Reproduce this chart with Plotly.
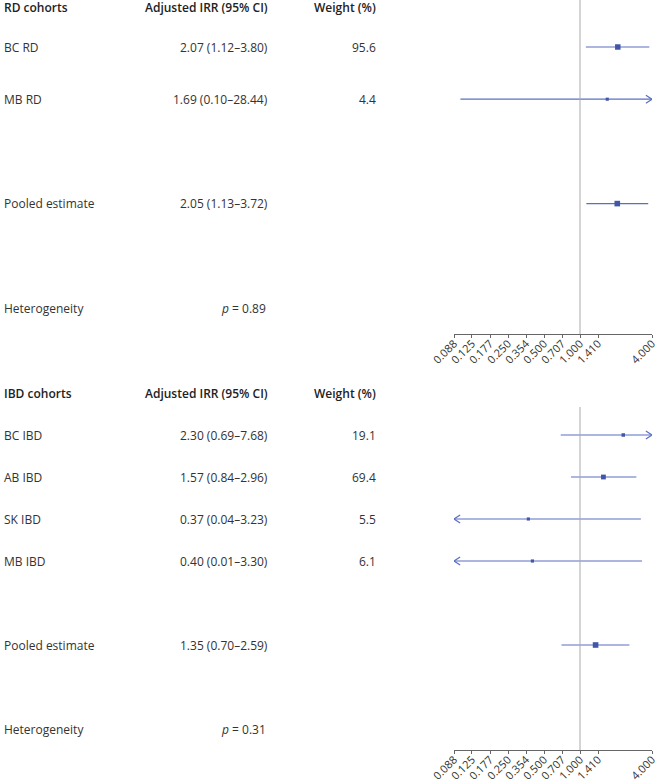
import math
import plotly.graph_objects as go

# ---------------- data ----------------
rd_labels = ["BC RD", "MB RD", "Pooled estimate"]
rd_est = [2.07, 1.69, 2.05]
rd_lo = [1.12, 0.10, 1.13]
rd_hi = [3.80, 28.44, 3.72]
rd_weight = [95.6, 4.4, None]
rd_het_p = "0.89"

ibd_labels = ["BC IBD", "AB IBD", "SK IBD", "MB IBD", "Pooled estimate"]
ibd_est = [2.30, 1.57, 0.37, 0.40, 1.35]
ibd_lo = [0.69, 0.84, 0.04, 0.01, 0.70]
ibd_hi = [7.68, 2.96, 3.23, 3.30, 2.59]
ibd_weight = [19.1, 69.4, 5.5, 6.1, None]
ibd_het_p = "0.31"

tick_vals = [0.0884, 0.125, 0.1768, 0.25, 0.3536, 0.5, 0.7071, 1.0, 1.4142, 4.0]
tick_text = ["0.088", "0.125", "0.177", "0.250", "0.354", "0.500", "0.707", "1.000", "1.410", "4.000"]
x_min, x_max = tick_vals[0], tick_vals[-1]

# ---------------- layout helpers ----------------
W, H = 660, 783
FONT = "Open Sans"
TXT = "#333333"
LINE_C = "#5b6fc2"
MARK_C = "#4256a8"

def py(p):  # pixel y -> paper y
    return 1 - p / H

def px(p):
    return p / W

panels = [
    dict(name="RD cohorts", labels=rd_labels, est=rd_est, lo=rd_lo, hi=rd_hi, w=rd_weight,
         het=rd_het_p, rows=[1, 2, 4], het_row=6, p0=-5.2, unit=52.2, top=0, bottom=334,
         header_pix=7),
    dict(name="IBD cohorts", labels=ibd_labels, est=ibd_est, lo=ibd_lo, hi=ibd_hi, w=ibd_weight,
         het=ibd_het_p, rows=[1, 2, 3, 4, 6], het_row=8, p0=393, unit=42, top=407, bottom=750,
         header_pix=394),
]

fig = go.Figure()
annotations = []
shapes = []

for i, P in enumerate(panels):
    sfx = "" if i == 0 else "2"
    row_of = lambda pix, P=P: (pix - P["p0"]) / P["unit"]
    y_rng = [row_of(P["bottom"]), row_of(P["top"])]
    dom = [py(P["bottom"]), py(P["top"])]
    fig.update_layout(**{
        "xaxis" + sfx: dict(type="log", domain=[px(454), px(652)],
                            range=[math.log10(x_min), math.log10(x_max)],
                            tickvals=tick_vals, ticktext=tick_text, tickangle=-45,
                            showline=True, linecolor="#666666", linewidth=1,
                            ticks="outside", ticklen=3, tickcolor="#666666",
                            ticklabelstandoff=-5,
                            showgrid=False, zeroline=False, anchor="y" + sfx,
                            automargin=False,
                            tickfont=dict(family=FONT, size=11, color="#333333")),
        "yaxis" + sfx: dict(domain=dom, range=y_rng, visible=False, showgrid=False,
                            zeroline=False, anchor="x" + sfx, automargin=False),
    })
    # reference line at IRR = 1
    shapes.append(dict(type="line", xref="x" + sfx, yref="y" + sfx + " domain",
                       x0=1, x1=1, y0=0, y1=1, line=dict(color="#aaaaaa", width=1)))

    ch_dx = 0.17 * math.log10(2)          # chevron depth (log10 units)
    ch_dy = 4.0 / P["unit"]               # chevron half-height (rows)
    for lab, e, lo, hi, w, r in zip(P["labels"], P["est"], P["lo"], P["hi"], P["w"], P["rows"]):
        a, b = max(lo, x_min), min(hi, x_max)
        fig.add_trace(go.Scatter(x=[a, b], y=[r, r], mode="lines", xaxis="x" + sfx, yaxis="y" + sfx,
                                 line=dict(color=LINE_C, width=1.2), hoverinfo="skip", showlegend=False))
        size = 3 + 2.6 * (w if w is not None else 100) / 100
        fig.add_trace(go.Scatter(x=[e], y=[r], mode="markers", xaxis="x" + sfx, yaxis="y" + sfx,
                                 marker=dict(symbol="square", size=size, color=MARK_C),
                                 showlegend=False))
        if hi > x_max:
            tip = math.log10(x_max)
            xs = [10 ** (tip - ch_dx), x_max, 10 ** (tip - ch_dx)]
            fig.add_trace(go.Scatter(x=xs, y=[r - ch_dy, r, r + ch_dy], mode="lines",
                                     xaxis="x" + sfx, yaxis="y" + sfx, cliponaxis=False,
                                     line=dict(color=LINE_C, width=1.2), showlegend=False))
        if lo < x_min:
            tip = math.log10(x_min)
            xs = [10 ** (tip + ch_dx), x_min, 10 ** (tip + ch_dx)]
            fig.add_trace(go.Scatter(x=xs, y=[r - ch_dy, r, r + ch_dy], mode="lines",
                                     xaxis="x" + sfx, yaxis="y" + sfx, cliponaxis=False,
                                     line=dict(color=LINE_C, width=1.2), showlegend=False))
        annotations.append(dict(text=lab, xref="paper", yref="y" + sfx, x=px(2), y=r,
                                xanchor="left", yanchor="middle", showarrow=False,
                                font=dict(family=FONT, size=12, color=TXT)))
        annotations.append(dict(text=f"{e:.2f} ({lo:.2f}\u2013{hi:.2f})", xref="paper", yref="y" + sfx,
                                x=px(270), y=r, xanchor="right", yanchor="middle", showarrow=False,
                                font=dict(family=FONT, size=12, color=TXT)))
        if w is not None:
            annotations.append(dict(text=f"{w:.1f}", xref="paper", yref="y" + sfx,
                                    x=px(378), y=r, xanchor="right", yanchor="middle", showarrow=False,
                                    font=dict(family=FONT, size=12, color=TXT)))
    # heterogeneity row
    annotations.append(dict(text="Heterogeneity", xref="paper", yref="y" + sfx, x=px(2), y=P["het_row"],
                            xanchor="left", yanchor="middle", showarrow=False,
                            font=dict(family=FONT, size=12, color=TXT)))
    annotations.append(dict(text=f"<i>p</i> = {P['het']}", xref="paper", yref="y" + sfx, x=px(268),
                            y=P["het_row"], xanchor="right", yanchor="middle", showarrow=False,
                            font=dict(family=FONT, size=12, color=TXT)))
    # headers (paper coordinates so they are never hidden)
    hy = py(P["header_pix"])
    hfont = dict(family=FONT, size=12, color="#222222", weight=600)
    annotations.append(dict(text=P["name"], xref="paper", yref="paper", x=px(2), y=hy,
                            xanchor="left", yanchor="middle", showarrow=False, font=hfont))
    annotations.append(dict(text="Adjusted IRR (95% CI)", xref="paper", yref="paper", x=px(270), y=hy,
                            xanchor="right", yanchor="middle", showarrow=False, font=hfont))
    annotations.append(dict(text="Weight (%)", xref="paper", yref="paper", x=px(378), y=hy,
                            xanchor="right", yanchor="middle", showarrow=False, font=hfont))

fig.update_layout(width=W, height=H, margin=dict(l=0, r=0, t=0, b=0, pad=0, autoexpand=False),
                  paper_bgcolor="white", plot_bgcolor="white", showlegend=False,
                  annotations=annotations, shapes=shapes,
                  font=dict(family=FONT, color=TXT))
fig.write_html("out.html", config={"displayModeBar": False},
               post_script="document.body.style.margin='0';document.body.style.overflow='hidden';")
